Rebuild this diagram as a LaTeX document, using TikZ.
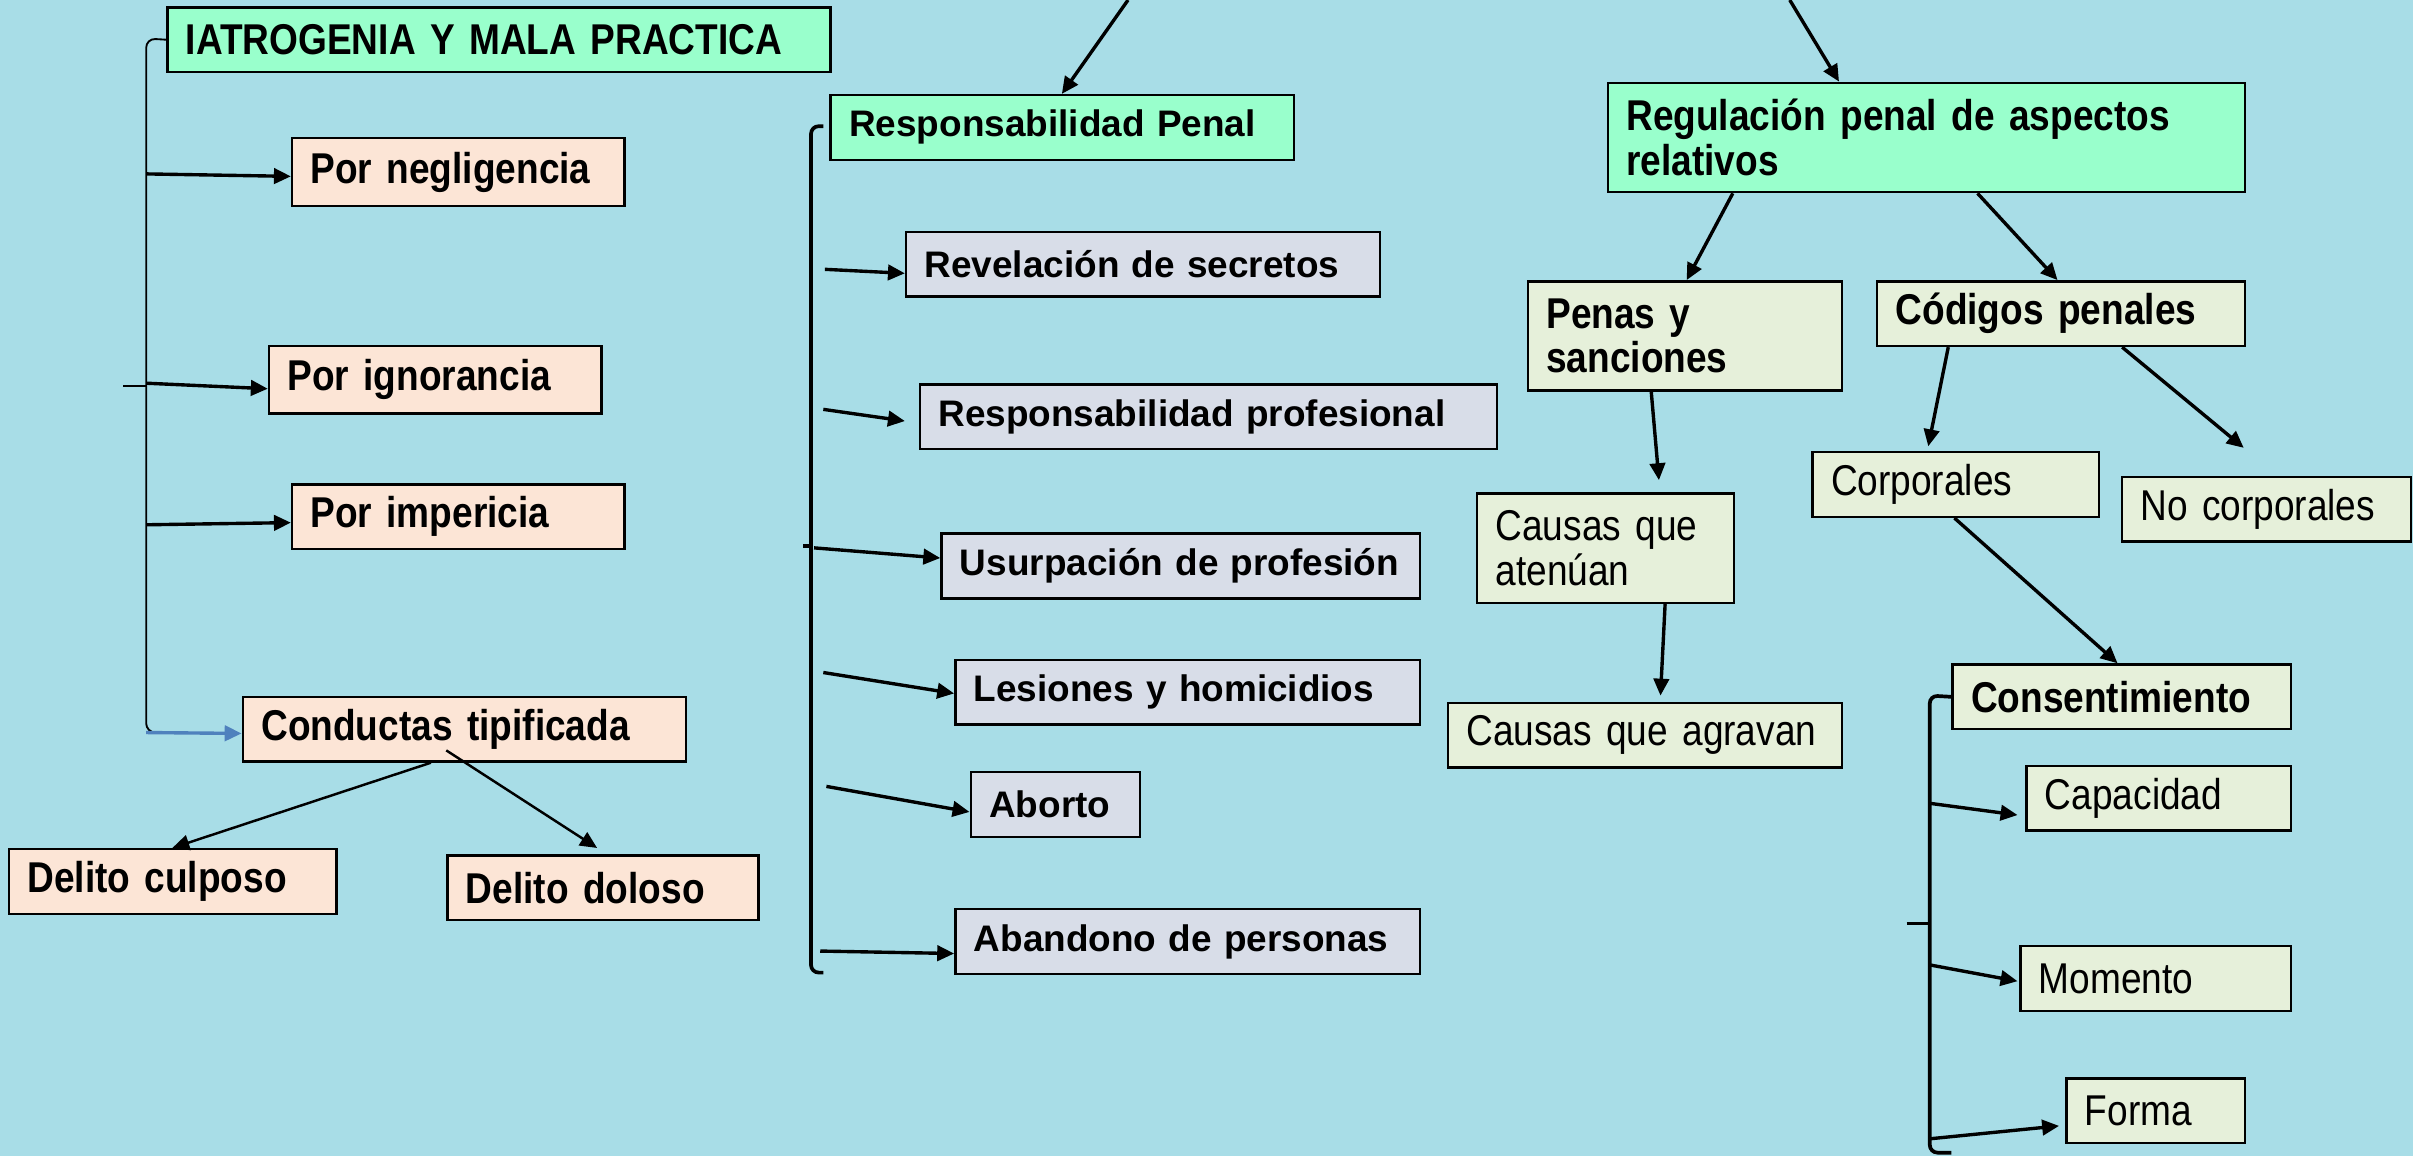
\documentclass[tikz,border=0pt]{standalone}
\usepackage{fontspec}
\setmainfont{Liberation Sans}
\newfontfamily\narrowsf[FakeStretch=0.86]{Liberation Sans}
\usetikzlibrary{arrows.meta,calc}

\definecolor{bgblue}{RGB}{168,221,231}
\definecolor{mint}{RGB}{153,255,204}
\definecolor{peach}{RGB}{252,229,214}
\definecolor{steel}{RGB}{216,221,232}
\definecolor{sage}{RGB}{230,240,218}
\definecolor{linkblue}{RGB}{79,129,189}

\begin{document}
\begin{tikzpicture}[x=0.5pt,y=-0.5pt,>={Triangle[length=5.5pt,width=5pt]},
    box/.style={draw,line width=0.8pt,anchor=north west,align=left,inner xsep=6pt,inner ysep=0pt,minimum height=21pt},
    tall/.style={minimum height=35.5pt},
    grbox/.style={box,fill=mint},
    pchbox/.style={box,fill=peach},
    gybox/.style={box,fill=steel,font=\bfseries\fontsize{12}{14}\selectfont},
    sgbox/.style={box,fill=sage},
    cb/.style={font=\narrowsf\bfseries\fontsize{14}{14.5}\selectfont},
    cr/.style={font=\narrowsf\fontsize{14}{14.5}\selectfont},
    conn/.style={line width=1.1pt},
    brk/.style={line width=1.2pt,rounded corners=2.5pt}]

    \fill[bgblue] (0,0) rectangle (1568,751);
    \useasboundingbox (0,0) rectangle (1568,751);

    % left column
    \node[grbox,cb,text width=203.5pt] (iat) at (108,4) {IATROGENIA Y MALA PRACTICA};
    \node[pchbox,cb,text width=96pt,minimum height=22pt] (neg) at (189,89) {Por negligencia};
    \node[pchbox,cb,text width=96pt,minimum height=22pt] (ign) at (174,224) {Por ignorancia};
    \node[pchbox,cb,text width=96pt] (imp) at (189,314) {Por impericia};
    \node[pchbox,cb,text width=132pt] (cond) at (157,452) {Conductas tipificada};
    \node[pchbox,cb,text width=94.5pt] (culp) at (5,551) {Delito culposo};
    \node[pchbox,cb,text width=89pt] (dol) at (290,555) {Delito doloso};

    \draw[line width=0.6pt,rounded corners=3pt] (iat.west) -- (95,25) -- (95,476) -- (112,476);
    \draw[line width=0.6pt] (80,251) -- (95,251);
    \coordinate (l1) at (95,113);
    \coordinate (l2) at (95,249);
    \coordinate (l3) at (95,341);
    \coordinate (l4) at (95,476);
    \draw[->,conn] (l1) -- ($(neg.south west)+(0,-20)$);
    \draw[->,conn] (l2) -- ($(ign.south west)+(0,-17)$);
    \draw[->,conn] (l3) -- ($(imp.south west)+(0,-18)$);
    \draw[->,conn,linkblue] (l4) -- ($(cond.south west)+(0,-19)$);
    \draw[->,line width=0.8pt] ($(cond.south west)+(123,0)$) -- ($(culp.north west)+(107,0)$);
    \draw[->,line width=0.8pt] ($(cond.south west)+(133,-8)$) -- ($(dol.north west)+(98,-4)$);

    % middle column
    \coordinate (topL) at (733,0);
    \node[grbox,font=\bfseries\fontsize{12}{14}\selectfont,text width=138.5pt] (rp) at (539,61) {Responsabilidad Penal};
    \node[gybox,text width=142pt] (rev) at (588,150) {Revelación de secretos};
    \node[gybox,text width=175.5pt] (rprof) at (597,249) {Responsabilidad profesional};
    \node[gybox,text width=143.5pt] (usu) at (611,346) {Usurpación de profesión};
    \node[gybox,text width=139pt] (les) at (620,428) {Lesiones y homicidios};
    \node[gybox,text width=43pt] (abo) at (630,501) {Aborto};
    \node[gybox,text width=139pt] (aban) at (620,590) {Abandono de personas};

    \draw[->,conn] (topL) -- ($(rp.north west)+(151,0)$);
    \draw[brk] (535,82) -- (527,82) -- (527,632) -- (535,632);
    \draw[line width=1.2pt] (522,355) -- (527,355);
    \coordinate (m1) at (536,175);
    \coordinate (m2) at (535,266);
    \coordinate (m3) at (529,356);
    \coordinate (m4) at (535,437);
    \coordinate (m5) at (537,511);
    \coordinate (m6) at (533,618);
    \draw[->,conn] (m1) -- ($(rev.south west)+(0,-16)$);
    \draw[->,conn] (m2) -- ($(rprof.south west)+(-9,-19)$);
    \draw[->,conn] (m3) -- ($(usu.south west)+(0,-27)$);
    \draw[->,conn] (m4) -- ($(les.south west)+(0,-21)$);
    \draw[->,conn] (m5) -- ($(abo.south west)+(0,-17)$);
    \draw[->,conn] (m6) -- ($(aban.south west)+(0,-14)$);

    % right column
    \coordinate (topR) at (1163,0);
    \node[grbox,cb,tall,text width=195pt] (reg) at (1044,53) {Regulación penal de aspectos\\relativos};
    \node[sgbox,cb,tall,text width=90pt] (pen) at (992,182) {Penas y\\sanciones};
    \node[sgbox,cb,text width=107.5pt] (cod) at (1219,182) {Códigos penales};
    \node[sgbox,cr,tall,text width=71.5pt] (aten) at (959,320) {Causas que\\atenúan};
    \node[sgbox,cr,text width=116pt] (agr) at (940,456) {Causas que agravan};
    \node[sgbox,cr,text width=81pt] (corp) at (1177,293) {Corporales};
    \node[sgbox,cr,text width=82pt] (ncorp) at (1378,309) {No corporales};
    \node[sgbox,cb,text width=98pt] (cons) at (1268,431) {Consentimiento};
    \node[sgbox,cr,text width=74pt] (cap) at (1316,497) {Capacidad};
    \node[sgbox,cr,text width=76pt] (mom) at (1312,614) {Momento};
    \node[sgbox,cr,text width=46pt] (forma) at (1342,700) {Forma};

    \draw[->,conn] (topR) -- ($(reg.north west)+(151,0)$);
    \draw[->,conn] ($(reg.south west)+(82,0)$) -- ($(pen.north west)+(104,0)$);
    \draw[->,conn] ($(reg.south west)+(241,0)$) -- ($(cod.north west)+(118,0)$);
    \draw[->,conn] ($(pen.south west)+(81,0)$) -- ($(aten.north west)+(119,-8)$);
    \draw[->,conn] ($(aten.south west)+(123,0)$) -- ($(agr.north west)+(139,-4)$);
    \draw[->,conn] ($(cod.south west)+(47,0)$) -- ($(corp.north west)+(76,-3)$);
    \draw[->,conn] ($(cod.south west)+(160,0)$) -- ($(ncorp.north west)+(80,-18)$);
    \draw[->,conn] ($(corp.south west)+(93,0)$) -- ($(cons.north west)+(108,0)$);

    \draw[brk] (cons.west) -- (1254,452) -- (1254,749) -- (1268,749);
    \draw[line width=1.2pt] (1239,600) -- (1254,600);
    \coordinate (r1) at (1254,522);
    \coordinate (r2) at (1254,627);
    \coordinate (r3) at (1254,740);
    \draw[->,conn] (r1) -- ($(cap.south west)+(-5,-11)$);
    \draw[->,conn] (r2) -- ($(mom.south west)+(-1,-20)$);
    \draw[->,conn] (r3) -- ($(forma.south west)+(-4,-12)$);
\end{tikzpicture}
\end{document}
